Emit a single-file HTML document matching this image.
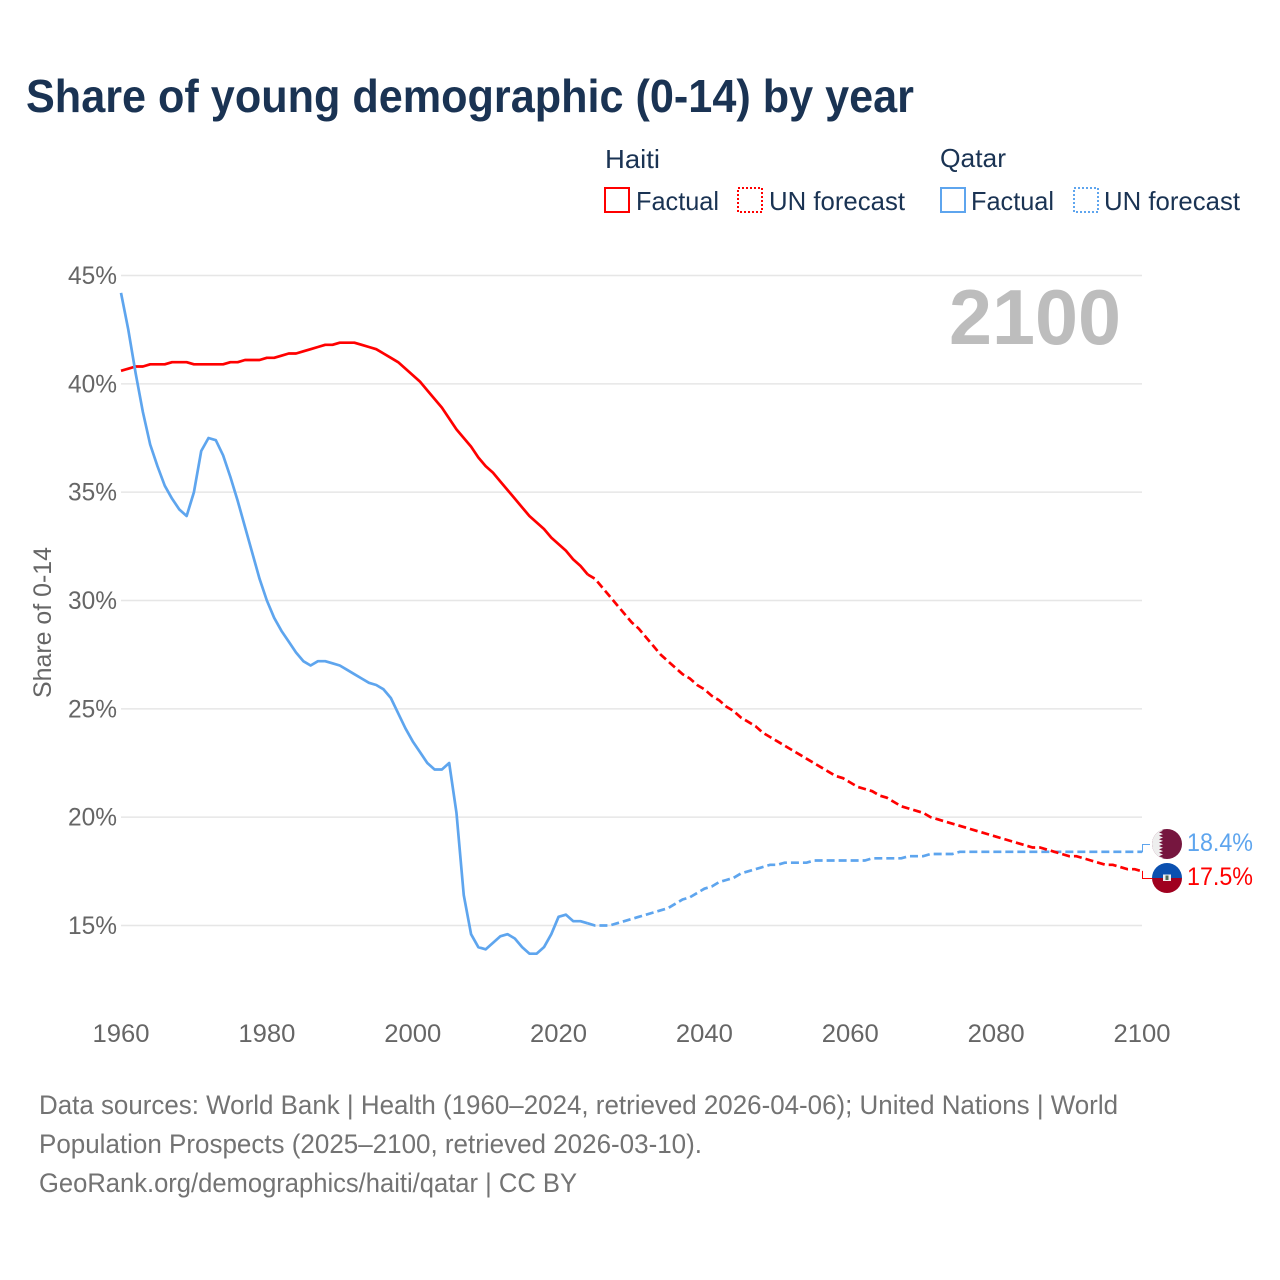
<!DOCTYPE html>
<html lang="en">
<head>
<meta charset="utf-8">
<title>Share of young demographic (0-14) by year</title>
<style>
html,body{margin:0;padding:0;background:#fff;width:1280px;height:1280px;overflow:hidden}
svg{display:block}
text{font-family:"Liberation Sans",sans-serif}
</style>
</head>
<body>
<svg id="chart" xmlns="http://www.w3.org/2000/svg" width="1280" height="1280" viewBox="0 0 1280 1280">
  <defs>
    <clipPath id="clip-qatar"><circle cx="1167" cy="844" r="15"/></clipPath>
    <clipPath id="clip-haiti"><circle cx="1167" cy="878" r="15"/></clipPath>
  </defs>
  <rect width="1280" height="1280" fill="#fff"/>
  <text x="26" y="112" font-size="46" font-weight="700" fill="#1a3353" textLength="888" lengthAdjust="spacingAndGlyphs">Share of young demographic (0-14) by year</text>

  <g font-size="26" fill="#1a3353">
    <text x="605" y="168" textLength="55" lengthAdjust="spacingAndGlyphs">Haiti</text>
    <text x="940" y="167" textLength="66" lengthAdjust="spacingAndGlyphs">Qatar</text>
    <rect x="605" y="188" width="24" height="24" fill="none" stroke="#ff0000" stroke-width="2" shape-rendering="crispEdges"/>
    <text x="636" y="210" textLength="83" lengthAdjust="spacingAndGlyphs">Factual</text>
    <rect x="738" y="188" width="24" height="24" fill="none" stroke="#ff0000" stroke-width="2" stroke-dasharray="2,2" shape-rendering="crispEdges"/>
    <text x="769" y="210" textLength="136" lengthAdjust="spacingAndGlyphs">UN forecast</text>
    <rect x="941" y="188" width="24" height="24" fill="none" stroke="#5ea5ee" stroke-width="2" shape-rendering="crispEdges"/>
    <text x="971" y="210" textLength="83" lengthAdjust="spacingAndGlyphs">Factual</text>
    <rect x="1074" y="188" width="24" height="24" fill="none" stroke="#5ea5ee" stroke-width="2" stroke-dasharray="2,2" shape-rendering="crispEdges"/>
    <text x="1104" y="210" textLength="136" lengthAdjust="spacingAndGlyphs">UN forecast</text>
  </g>

  <g id="grid"></g>
  <text x="949" y="344" font-size="78" font-weight="700" fill="#bdbdbd" textLength="172" lengthAdjust="spacingAndGlyphs">2100</text>
  <g id="y-ticks"></g>
  <g id="x-ticks"></g>
  <text transform="translate(51,698) rotate(-90)" font-size="25" fill="#666" textLength="151" lengthAdjust="spacingAndGlyphs">Share of 0-14</text>
  <g id="series"></g>

  <g clip-path="url(#clip-qatar)">
    <rect x="1152" y="829" width="30" height="30" fill="#76163f"/>
    <polygon fill="#eeeeee" points="1152,829 1159,829 1163,830.7 1159,832.4 1163,834.1 1159,835.8 1163,837.5 1159,839.2 1163,840.9 1159,842.6 1163,844.3 1159,846 1163,847.7 1159,849.4 1163,851.1 1159,852.8 1163,854.5 1159,856.2 1163,857.9 1159,859 1152,859"/>
  </g>
  <g clip-path="url(#clip-haiti)">
    <rect x="1152" y="863" width="30" height="15" fill="#0b50b0"/>
    <rect x="1152" y="878" width="30" height="15" fill="#a0001f"/>
    <rect x="1163" y="874.5" width="8" height="6.5" fill="#f0eeee"/>
    <rect x="1165.5" y="875.5" width="3" height="4.5" fill="#4d6a5a"/>
  </g>
  <text x="1187" y="851" font-size="25" fill="#5ea5ee" textLength="66" lengthAdjust="spacingAndGlyphs">18.4%</text>
  <text x="1187" y="885" font-size="25" fill="#ff0000" textLength="66" lengthAdjust="spacingAndGlyphs">17.5%</text>

  <g font-size="27" fill="#737373">
    <text x="39" y="1114" textLength="1079" lengthAdjust="spacingAndGlyphs">Data sources: World Bank | Health (1960–2024, retrieved 2026-04-06); United Nations | World</text>
    <text x="39" y="1153" textLength="663" lengthAdjust="spacingAndGlyphs">Population Prospects (2025–2100, retrieved 2026-03-10).</text>
    <text x="39" y="1192" textLength="538" lengthAdjust="spacingAndGlyphs">GeoRank.org/demographics/haiti/qatar | CC BY</text>
  </g>
</svg>
<script>
const xTickYears = [1960, 1980, 2000, 2020, 2040, 2060, 2080, 2100];
const yTickValues = [15, 20, 25, 30, 35, 40, 45];
const firstYear = 1960;
const lastFactualYear = 2024;

const haitiFactual = [
  40.6,40.7,40.8,40.8,40.9,40.9,40.9,41.0,41.0,41.0,
  40.9,40.9,40.9,40.9,40.9,41.0,41.0,41.1,41.1,41.1,
  41.2,41.2,41.3,41.4,41.4,41.5,41.6,41.7,41.8,41.8,
  41.9,41.9,41.9,41.8,41.7,41.6,41.4,41.2,41.0,40.7,
  40.4,40.1,39.7,39.3,38.9,38.4,37.9,37.5,37.1,36.6,
  36.2,35.9,35.5,35.1,34.7,34.3,33.9,33.6,33.3,32.9,
  32.6,32.3,31.9,31.6,31.2
];
const haitiForecast = [
  31.0,30.6,30.2,29.8,29.4,
  29.0,28.7,28.3,27.9,27.5,27.2,26.9,26.6,26.4,26.1,
  25.9,25.6,25.4,25.1,24.9,24.6,24.4,24.2,23.9,23.7,
  23.5,23.3,23.1,22.9,22.7,22.5,22.3,22.1,21.9,21.8,
  21.6,21.4,21.3,21.2,21.0,20.9,20.7,20.5,20.4,20.3,
  20.2,20.0,19.9,19.8,19.7,19.6,19.5,19.4,19.3,19.2,
  19.1,19.0,18.9,18.8,18.7,18.6,18.6,18.5,18.4,18.3,
  18.2,18.2,18.1,18.0,17.9,17.8,17.8,17.7,17.6,17.6,
  17.5
];
const qatarFactual = [
  44.2,42.5,40.5,38.7,37.2,36.2,35.3,34.7,34.2,33.9,
  35.0,36.9,37.5,37.4,36.7,35.7,34.6,33.4,32.2,31.0,
  30.0,29.2,28.6,28.1,27.6,27.2,27.0,27.2,27.2,27.1,
  27.0,26.8,26.6,26.4,26.2,26.1,25.9,25.5,24.8,24.1,
  23.5,23.0,22.5,22.2,22.2,22.5,20.2,16.4,14.6,14.0,
  13.9,14.2,14.5,14.6,14.4,14.0,13.7,13.7,14.0,14.6,
  15.4,15.5,15.2,15.2,15.1
];
const qatarForecast = [
  15.0,15.0,15.0,15.1,15.2,
  15.3,15.4,15.5,15.6,15.7,15.8,16.0,16.2,16.3,16.5,
  16.7,16.8,17.0,17.1,17.2,17.4,17.5,17.6,17.7,17.8,
  17.8,17.9,17.9,17.9,17.9,18.0,18.0,18.0,18.0,18.0,
  18.0,18.0,18.0,18.1,18.1,18.1,18.1,18.1,18.2,18.2,
  18.2,18.3,18.3,18.3,18.3,18.4,18.4,18.4,18.4,18.4,
  18.4,18.4,18.4,18.4,18.4,18.4,18.4,18.4,18.4,18.4,
  18.4,18.4,18.4,18.4,18.4,18.4,18.4,18.4,18.4,18.4,
  18.4
];

const NS = 'http://www.w3.org/2000/svg';
const X0 = 121, X1 = 1142, Y45 = 275.5, Y15 = 925.5;
function xScale(year) { return X0 + (year - 1960) * (X1 - X0) / 140; }
function yScale(v) { return Y15 - (v - 15) * (Y15 - Y45) / 30; }
function make(tag, parent, attrs) {
  const el = document.createElementNS(NS, tag);
  for (const k in attrs) el.setAttribute(k, attrs[k]);
  parent.appendChild(el);
  return el;
}
function pathFrom(startYear, values) {
  return values.map((v, i) => (i ? 'L' : 'M') + xScale(startYear + i).toFixed(2) + ' ' + yScale(v).toFixed(2)).join(' ');
}

const grid = document.getElementById('grid');
const yTicks = document.getElementById('y-ticks');
const xTicks = document.getElementById('x-ticks');
const series = document.getElementById('series');

yTickValues.forEach(function (v) {
  const line = make('line', grid, { x1: X0, x2: X1, y1: yScale(v), y2: yScale(v), stroke: '#e6e6e6', 'stroke-width': 1.5 });
  
  
  const t = make('text', yTicks, { x: 117, y: yScale(v) + 8.5, 'text-anchor': 'end', 'font-size': 25, fill: '#666', textLength: 49, lengthAdjust: 'spacingAndGlyphs' });
  
  
  t.textContent = v + '%';
});

xTickYears.forEach(function (y) {
  const t = make('text', xTicks, { x: xScale(y), y: 1042, 'text-anchor': 'middle', 'font-size': 25, fill: '#666', textLength: 57, lengthAdjust: 'spacingAndGlyphs' });
  
  
  t.textContent = y;
});

const RED = '#ff0000', BLUE = '#5ea5ee';

const qatarForecastLine = make('path', series, { d: pathFrom(lastFactualYear, [qatarFactual[qatarFactual.length - 1]].concat(qatarForecast)), fill: 'none', stroke: BLUE, 'stroke-width': 2.7, 'stroke-dasharray': '8,4' });



const haitiForecastLine = make('path', series, { d: pathFrom(lastFactualYear, [haitiFactual[haitiFactual.length - 1]].concat(haitiForecast)), fill: 'none', stroke: RED, 'stroke-width': 2.7, 'stroke-dasharray': '8,4' });



const haitiFactualLine = make('path', series, { d: pathFrom(firstYear, haitiFactual), fill: 'none', stroke: RED, 'stroke-width': 2.7, 'stroke-linejoin': 'round' });



const qatarFactualLine = make('path', series, { d: pathFrom(firstYear, qatarFactual), fill: 'none', stroke: BLUE, 'stroke-width': 2.7, 'stroke-linejoin': 'round' });



const qatarEnd = yScale(qatarForecast[qatarForecast.length - 1]);
const haitiEnd = yScale(haitiForecast[haitiForecast.length - 1]);
const qatarLeader = make('path', series, { d: 'M' + X1 + ' ' + qatarEnd + ' L' + (X1 + 0.5) + ' ' + qatarEnd + ' L' + (X1 + 0.5) + ' 844.5 L1150 844.5', fill: 'none', stroke: BLUE, 'stroke-width': 1 });


const haitiLeader = make('path', series, { d: 'M' + X1 + ' ' + haitiEnd + ' L' + (X1 + 0.5) + ' ' + haitiEnd + ' L' + (X1 + 0.5) + ' 878.5 L1152 878.5', fill: 'none', stroke: RED, 'stroke-width': 1 });


</script>
</body>
</html>
